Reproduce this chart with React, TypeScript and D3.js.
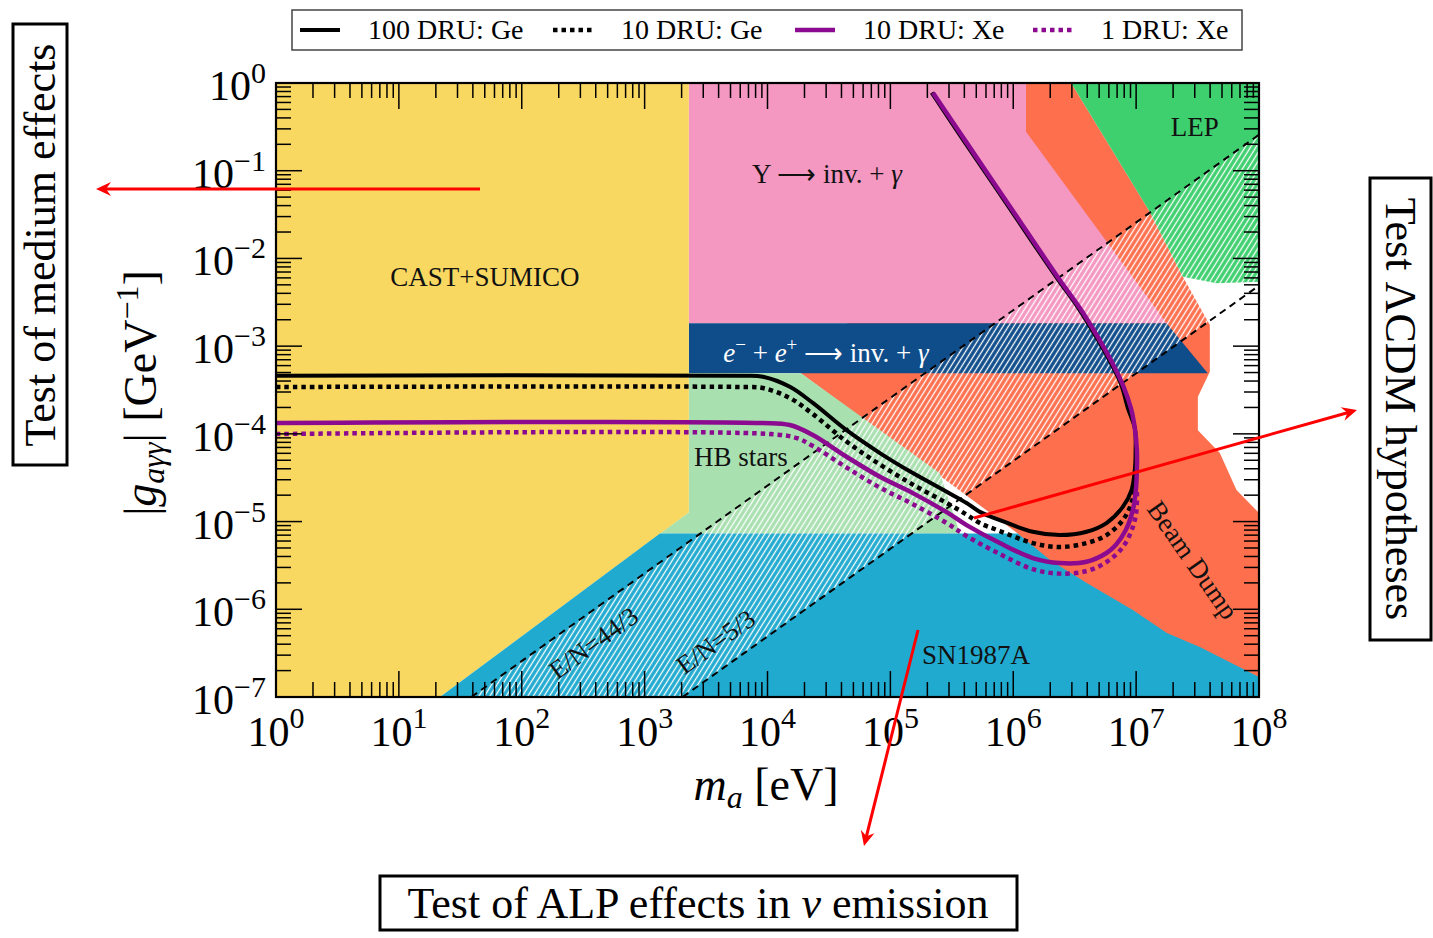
import React from 'react';
import * as d3 from 'd3';

type P = [number, number];

// ---- data: axion mass m_a [eV], coupling |g| [GeV^-1] ----
const castSumico: P[] = [[1, 1], [2291, 1], [2291, 1.28e-5], [21.6, 1e-7], [1, 1e-7]];
const hbStars: P[] = [[2291, 4.9e-4], [1.87e4, 4.9e-4], [2.53e5, 3.55e-5], [3.68e5, 7.33e-6], [1333, 7.33e-6], [2291, 1.28e-5]];
const upsilon: P[] = [[2291, 1], [1.27e6, 1], [1.27e6, 0.279], [1.77e7, 1.82e-3], [2291, 1.82e-3]];
const eeBand: P[] = [[2291, 1.82e-3], [1.77e7, 1.82e-3], [3.83e7, 4.9e-4], [2291, 4.9e-4]];
const beamDump: P[] = [[1.27e6, 1], [2.96e6, 1], [1.29e7, 3.41e-2], [2.4e7, 6.18e-3], [3.98e7, 1.74e-3], [3.98e7, 5.1e-4], [3.18e7, 2.65e-4], [3.18e7, 1.1e-4], [4.8e7, 6.04e-5], [6.56e7, 2.29e-5], [1e8, 1.25e-5], [1e8, 1e-7], [1.09e6, 1e-7], [1.09e6, 7.33e-6], [1.87e4, 4.9e-4], [1.27e6, 0.279]];
const lep: P[] = [[2.96e6, 1], [1e8, 1], [1e8, 5.42e-3], [4.51e7, 5.2e-3], [3.3e7, 5.67e-3], [2.4e7, 6.18e-3], [1.29e7, 3.41e-2]];
const sn1987a: P[] = [[21.6, 1e-7], [1333, 7.33e-6], [1.09e6, 7.33e-6], [1.99e6, 3.64e-6], [3.97e6, 1.99e-6], [9.4e6, 9.8e-7], [1.78e7, 5.36e-7], [3.3e7, 3.71e-7], [1e8, 1.69e-7], [1e8, 1e-7]];

const axionUpper: P[] = [[38.9, 1e-7], [1e8, 0.257]]; // E/N = 44/3
const axionLower: P[] = [[2040, 1e-7], [1e8, 4.9e-3]]; // E/N = 5/3

const ge100: P[] = [[1, 4.6e-4], [5.96e3, 4.6e-4], [9.18e3, 4.48e-4], [1.52e4, 3.44e-4], [2.34e4, 2.25e-4], [4.4e4, 1.1e-4], [8.22e4, 6.04e-5], [1.524e5, 3.57e-5], [2.87e5, 2.19e-5], [4.17e5, 1.63e-5], [5.35e5, 1.29e-5], [7.78e5, 1.04e-5], [1.44e6, 7.65e-6], [2.39e6, 7.02e-6], [3.95e6, 7.65e-6], [5.74e6, 9.62e-6], [7.79e6, 1.47e-5], [9.18e6, 2.29e-5], [9.76e6, 3.87e-5], [9.9e6, 6.53e-5], [9.76e6, 1.16e-4], [8.57e6, 1.97e-4], [7.58e6, 3.61e-4], [6.17e6, 6.59e-4], [4.74e6, 1.27e-3], [3.39e6, 2.72e-3], [2.33e6, 5.67e-3], [1.4e6, 1.61e-2], [7.57e5, 5.76e-2], [4.05e5, 0.209], [2.17e5, 0.775]];
const ge10: P[] = [[1, 3.42e-4], [5.96e3, 3.42e-4], [9.18e3, 3.33e-4], [1.52e4, 2.56e-4], [2.34e4, 1.68e-4], [4.4e4, 8.17e-5], [8.22e4, 4.47e-5], [1.524e5, 2.64e-5], [2.87e5, 1.63e-5], [4.17e5, 1.2e-5], [5.35e5, 9.62e-6], [7.78e5, 7.8e-6], [1.44e6, 5.69e-6], [2.39e6, 5.13e-6], [3.95e6, 5.69e-6], [5.74e6, 7.02e-6], [7.79e6, 1.04e-5], [9.18e6, 1.63e-5], [9.76e6, 2.61e-5], [9.9e6, 4.0e-5]];
const xe10: P[] = [[1, 1.33e-4], [8.7e3, 1.33e-4], [1.52e4, 1.26e-4], [2.34e4, 9.69e-5], [4.4e4, 5.48e-5], [8.22e4, 3.24e-5], [1.524e5, 2.11e-5], [2.87e5, 1.28e-5], [4.17e5, 9.12e-6], [7.78e5, 5.69e-6], [1.44e6, 3.84e-6], [2.39e6, 3.37e-6], [3.95e6, 3.48e-6], [5.74e6, 4.38e-6], [6.83e6, 5.4e-6], [8.24e6, 8.0e-6], [9.4e6, 1.35e-5], [9.95e6, 2.29e-5], [1.014e7, 3.87e-5], [1.014e7, 6.53e-5], [9.76e6, 1.16e-4], [9.06e6, 1.97e-4], [7.79e6, 3.61e-4], [6.34e6, 6.59e-4], [4.88e6, 1.27e-3], [3.48e6, 2.72e-3], [2.39e6, 5.67e-3], [1.44e6, 1.61e-2], [7.78e5, 5.76e-2], [4.17e5, 0.209], [2.22e5, 0.775]];
const xe1: P[] = [[1, 9.95e-5], [1.05e4, 9.95e-5], [1.73e4, 8.95e-5], [2.34e4, 7.26e-5], [4.4e4, 4.13e-5], [8.22e4, 2.44e-5], [1.524e5, 1.58e-5], [2.87e5, 9.62e-6], [4.17e5, 6.84e-6], [7.78e5, 4.26e-6], [1.44e6, 2.87e-6], [2.39e6, 2.55e-6], [3.95e6, 2.73e-6], [5.74e6, 3.45e-6], [7.79e6, 5.12e-6], [9.4e6, 8.65e-6], [1.007e7, 1.35e-5], [1.014e7, 2.3e-5]];

const xExponents = ['0', '1', '2', '3', '4', '5', '6', '7', '8'];
const yExponents = ['0', '−1', '−2', '−3', '−4', '−5', '−6', '−7'];
const legendLabels = ['100 DRU: Ge', '10 DRU: Ge', '10 DRU: Xe', '1 DRU: Xe'];

const FONT = "'Liberation Serif', 'Times New Roman', serif";
const C = {
  yellow: '#f9d862', pink: '#f497c1', band: '#0f4c8a', orange: '#fe6f4e',
  lep: '#3ecf6e', hb: '#a9e0b0', sn: '#21aacf', purple: '#8b0a8f',
};

export default function App() {
  const L = 276, R = 1259, T = 83, B = 697;
  const x = d3.scaleLog().domain([1, 1e8]).range([L, R]);
  const y = d3.scaleLog().domain([1e-7, 1]).range([B, T]);
  const poly = d3.line<P>().x(d => x(d[0])).y(d => y(d[1])).curve(d3.curveLinearClosed);
  const smooth = d3.line<P>().x(d => x(d[0])).y(d => y(d[1])).curve(d3.curveCatmullRom.alpha(0.5));
  const straight = d3.line<P>().x(d => x(d[0])).y(d => y(d[1]));

  const xMaj = xExponents.map((_, i) => Math.pow(10, i));
  const yMaj = yExponents.map((_, i) => Math.pow(10, -i));
  const xMin: number[] = [];
  for (let k = 0; k < 8; k++) for (let j = 2; j <= 9; j++) xMin.push(j * Math.pow(10, k));
  const yMin: number[] = [];
  for (let k = -7; k < 0; k++) for (let j = 2; j <= 9; j++) yMin.push(j * Math.pow(10, k));

  const band: P[] = [axionUpper[0], axionUpper[1], axionLower[1], axionLower[0]];

  const series = [
    { data: ge100, color: '#000', dash: undefined as string | undefined, w: 4 },
    { data: ge10, color: '#000', dash: '4.5 4', w: 4.5 },
    { data: xe10, color: C.purple, dash: undefined, w: 4.5 },
    { data: xe1, color: C.purple, dash: '4.5 4', w: 4.5 },
  ];
  const legendX = [300, 553, 795, 1033];

  const arrows = [
    { x1: 480, y1: 189, x2: 96, y2: 189 },
    { x1: 974, y1: 518, x2: 1357, y2: 410 },
    { x1: 918, y1: 630, x2: 864, y2: 846 },
  ];
  const shorten = (a: { x1: number; y1: number; x2: number; y2: number }) => {
    const dx = a.x2 - a.x1, dy = a.y2 - a.y1, len = Math.hypot(dx, dy);
    return { x: a.x2 - (dx / len) * 9, y: a.y2 - (dy / len) * 9 };
  };

  const lbl = (m: number, g: number) => ({ x: x(m), y: y(g) });
  const cast = lbl(50.2, 4.84e-3);
  const ups = lbl(3.04e4, 7.24e-2);
  const ee = lbl(2.99e4, 6.59e-4);
  const hb = lbl(6.08e3, 4.3e-5);
  const lepL = lbl(3.0e7, 0.249);
  const sn = lbl(4.97e5, 2.37e-7);
  const bd = lbl(2.89e7, 3.64e-6);
  const en44 = lbl(386, 4.12e-7);
  const en5 = lbl(3.8e3, 4.23e-7);

  return (
    <svg width={1433} height={938} style={{ position: 'absolute', left: 0, top: 0, background: '#fff' }} fontFamily={FONT}>
      <defs>
        <clipPath id="plot"><rect x={L} y={T} width={R - L} height={B - T} /></clipPath>
        <pattern id="hatch" width={4.6} height={4.6} patternUnits="userSpaceOnUse" patternTransform="rotate(32)">
          <line x1={2.3} y1={0} x2={2.3} y2={4.6} stroke="#fff" strokeWidth={1.3} />
        </pattern>
        <marker id="arr" viewBox="-16 -8 17 16" refX={0} refY={0} markerWidth={17} markerHeight={16} markerUnits="userSpaceOnUse" orient="auto">
          <path d="M0,0 L-15,-7 L-10,0 L-15,7 Z" fill="#ff0000" />
        </marker>
      </defs>

      <g clipPath="url(#plot)">
        <path d={poly(beamDump)!} fill={C.orange} />
        <path d={poly(lep)!} fill={C.lep} />
        <path d={poly(upsilon)!} fill={C.pink} />
        <path d={poly(eeBand)!} fill={C.band} />
        <path d={poly(hbStars)!} fill={C.hb} />
        <path d={poly(castSumico)!} fill={C.yellow} />
        <path d={poly(sn1987a)!} fill={C.sn} />
        <path d={poly(band)!} fill="url(#hatch)" />
        <path d={straight(axionUpper)!} stroke="#000" strokeWidth={2} strokeDasharray="7 5" fill="none" />
        <path d={straight(axionLower)!} stroke="#000" strokeWidth={2} strokeDasharray="7 5" fill="none" />
      </g>

      {/* region labels */}
      <g fontSize={27} fill="#111">
        <text x={cast.x} y={cast.y} textAnchor="middle">CAST+SUMICO</text>
        <text x={ups.x} y={ups.y} textAnchor="middle">Υ ⟶ inv. + <tspan fontStyle="italic">γ</tspan></text>
        <text x={ee.x} y={ee.y} textAnchor="middle" fill="#fff">
          <tspan fontStyle="italic">e</tspan><tspan dy={-11} fontSize={19}>−</tspan><tspan dy={11}> + </tspan>
          <tspan fontStyle="italic">e</tspan><tspan dy={-11} fontSize={19}>+</tspan><tspan dy={11}> ⟶ inv. + </tspan>
          <tspan fontStyle="italic">γ</tspan>
        </text>
        <text x={hb.x} y={hb.y} textAnchor="middle">HB stars</text>
        <text x={lepL.x} y={lepL.y} textAnchor="middle">LEP</text>
        <text x={sn.x} y={sn.y} textAnchor="middle">SN1987A</text>
        <text transform={`translate(${bd.x},${bd.y}) rotate(55)`} textAnchor="middle" dominantBaseline="central">Beam Dump</text>
        <text transform={`translate(${en44.x},${en44.y}) rotate(-36)`} textAnchor="middle" dominantBaseline="central" fontSize={26}>E/N=44/3</text>
        <text transform={`translate(${en5.x},${en5.y}) rotate(-36)`} textAnchor="middle" dominantBaseline="central" fontSize={26}>E/N=5/3</text>
      </g>

      {/* sensitivity curves */}
      <g clipPath="url(#plot)" fill="none">
        {series.map((s, i) => (
          <path key={i} d={smooth(s.data)!} stroke={s.color} strokeWidth={s.w} strokeDasharray={s.dash} strokeLinejoin="round" />
        ))}
      </g>

      {/* ticks */}
      <g stroke="#000" strokeWidth={1.5}>
        {xMaj.map((v, i) => (
          <g key={'xM' + i}>
            <line x1={x(v)} x2={x(v)} y1={B} y2={B - 26} />
            <line x1={x(v)} x2={x(v)} y1={T} y2={T + 26} />
          </g>
        ))}
        {xMin.map((v, i) => (
          <g key={'xm' + i}>
            <line x1={x(v)} x2={x(v)} y1={B} y2={B - 15} />
            <line x1={x(v)} x2={x(v)} y1={T} y2={T + 15} />
          </g>
        ))}
        {yMaj.map((v, i) => (
          <g key={'yM' + i}>
            <line x1={L} x2={L + 26} y1={y(v)} y2={y(v)} />
            <line x1={R} x2={R - 26} y1={y(v)} y2={y(v)} />
          </g>
        ))}
        {yMin.map((v, i) => (
          <g key={'ym' + i}>
            <line x1={L} x2={L + 15} y1={y(v)} y2={y(v)} />
            <line x1={R} x2={R - 15} y1={y(v)} y2={y(v)} />
          </g>
        ))}
      </g>
      <rect x={L} y={T} width={R - L} height={B - T} fill="none" stroke="#000" strokeWidth={2.2} />

      {/* tick labels */}
      <g fontSize={42} fill="#000">
        {xMaj.map((v, i) => (
          <text key={'xl' + i} x={x(v)} y={746} textAnchor="middle">10<tspan dy={-18} fontSize={30}>{xExponents[i]}</tspan></text>
        ))}
        {yMaj.map((v, i) => (
          <text key={'yl' + i} x={266} y={y(v) + 17} textAnchor="end">10<tspan dy={-17} fontSize={30}>{yExponents[i]}</tspan></text>
        ))}
      </g>

      {/* axis titles */}
      <text x={766} y={800} textAnchor="middle" fontSize={46}>
        <tspan fontStyle="italic">m</tspan><tspan fontStyle="italic" fontSize={32} dy={8}>a</tspan><tspan dy={-8}> [eV]</tspan>
      </text>
      <text transform="translate(156,393) rotate(-90)" textAnchor="middle" fontSize={46}>
        |<tspan fontStyle="italic">g</tspan><tspan fontStyle="italic" fontSize={32} dy={8}>aγγ</tspan><tspan dy={-8}>| [GeV</tspan>
        <tspan fontSize={32} dy={-18}>−1</tspan><tspan dy={18}>]</tspan>
      </text>

      {/* legend */}
      <rect x={292} y={10} width={950} height={40} fill="#fff" stroke="#444" strokeWidth={1.5} />
      {series.map((s, i) => (
        <g key={'lg' + i}>
          <line x1={legendX[i]} x2={legendX[i] + 40} y1={30} y2={30} stroke={s.color} strokeWidth={s.w} strokeDasharray={s.dash} />
          <text x={legendX[i] + 68} y={39} fontSize={28}>{legendLabels[i]}</text>
        </g>
      ))}

      {/* red arrows */}
      {arrows.map((a, i) => {
        const e = shorten(a);
        return (
          <g key={'ar' + i}>
            <line x1={a.x1} y1={a.y1} x2={e.x} y2={e.y} stroke="#ff0000" strokeWidth={3} />
            <line x1={e.x} y1={e.y} x2={a.x2} y2={a.y2} stroke="none" markerEnd="url(#arr)" />
          </g>
        );
      })}

      {/* annotation boxes */}
      <rect x={13} y={24} width={54} height={441} fill="#fff" stroke="#000" strokeWidth={3} />
      <text transform="translate(55,245) rotate(-90)" textAnchor="middle" fontSize={44}>Test of medium effects</text>
      <rect x={1370} y={178} width={61} height={462} fill="#fff" stroke="#000" strokeWidth={3} />
      <text transform="translate(1386,409) rotate(90)" textAnchor="middle" fontSize={44}>Test ΛCDM hypotheses</text>
      <rect x={380} y={876} width={637} height={54} fill="#fff" stroke="#000" strokeWidth={3} />
      <text x={698} y={918} textAnchor="middle" fontSize={44}>Test of ALP effects in <tspan fontStyle="italic">ν</tspan> emission</text>
    </svg>
  );
}
